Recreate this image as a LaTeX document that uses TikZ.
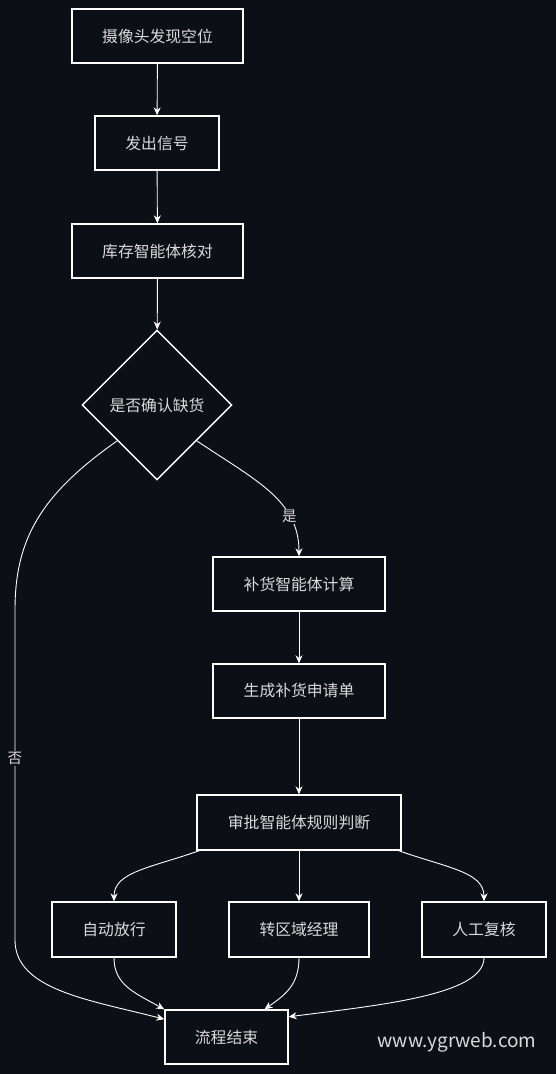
\documentclass[tikz,border=0pt]{standalone}
\usepackage{fontspec}
\setmainfont{Noto Sans CJK SC}
\usetikzlibrary{shapes.geometric,arrows.meta,calc}
\definecolor{bg}{HTML}{0D0F16}
\definecolor{txt}{HTML}{DADADA}
\begin{document}
\begin{tikzpicture}[x=1pt,y=-1pt,
  every node/.style={text=txt,font=\fontsize{15.8}{18}\selectfont},
  box/.style={draw=white,line width=1.4pt,fill=bg,inner sep=0pt},
  dec/.style={draw=white,line width=1.4pt,fill=bg,shape=diamond,minimum width=150pt,minimum height=150pt,inner sep=0pt},
  arr/.style={draw=white,line width=0.9pt,-{Stealth[length=8pt,width=7pt]}},
  lbl/.style={fill=bg,inner sep=1pt,font=\fontsize{14.5}{16}\selectfont}]
\fill[bg] (0,0) rectangle (556,1074);
\useasboundingbox (0,0) rectangle (556,1074);
\node[box,minimum width=171pt,minimum height=54pt] (A) at (157.5,36) {摄像头发现空位};
\node[box,minimum width=124pt,minimum height=54pt] (B) at (157,143) {发出信号};
\node[box,minimum width=171pt,minimum height=54pt] (C) at (157.5,251) {库存智能体核对};
\node[dec] (D) at (157,405) {是否确认缺货};
\node[box,minimum width=172pt,minimum height=54pt] (E) at (299,584) {补货智能体计算};
\node[box,minimum width=172pt,minimum height=54pt] (F) at (299,691) {生成补货申请单};
\node[box,minimum width=204pt,minimum height=55pt] (G) at (299,822.5) {审批智能体规则判断};
\node[box,minimum width=124pt,minimum height=55pt] (H1) at (114,929.5) {自动放行};
\node[box,minimum width=140pt,minimum height=55pt] (H2) at (299,929.5) {转区域经理};
\node[box,minimum width=124pt,minimum height=55pt] (H3) at (484,929.5) {人工复核};
\node[box,minimum width=123pt,minimum height=54pt] (I) at (226.5,1037) {流程结束};
\node[font=\fontsize{19}{22}\selectfont] (W) at (457,1042) {www.ygrweb.com};
\draw[arr] (A) -- (B);
\draw[arr] (B) -- (C);
\draw[arr] (C) -- (D);
\draw[arr] (D.-42) .. controls (255,480) and (299,500) .. node[lbl,pos=0.72] {是} (E.north);
\draw[arr] (D.-138) .. controls (40,495) and (15,540) .. (15,610) -- node[lbl,pos=0.45] {否} (15,940) .. controls (15,990) and (90,1000) .. (I.164);
\draw[arr] (E) -- (F);
\draw[arr] (F) -- (G);
\draw[arr] ($(G.south west)+(3,0)$) .. controls (150,868) and (114,872) .. (H1.north);
\draw[arr] (G) -- (H2);
\draw[arr] ($(G.south east)+(-3,0)$) .. controls (448,868) and (484,872) .. (H3.north);
\draw[arr] (H1.south) .. controls (114,985) and (135,993) .. (I.north west);
\draw[arr] (H2.south) .. controls (299,985) and (285,995) .. ($(I.north)+(38,0)$);
\draw[arr] (H3.south) .. controls (484,995) and (380,1005) .. (I.18);
\end{tikzpicture}
\end{document}
